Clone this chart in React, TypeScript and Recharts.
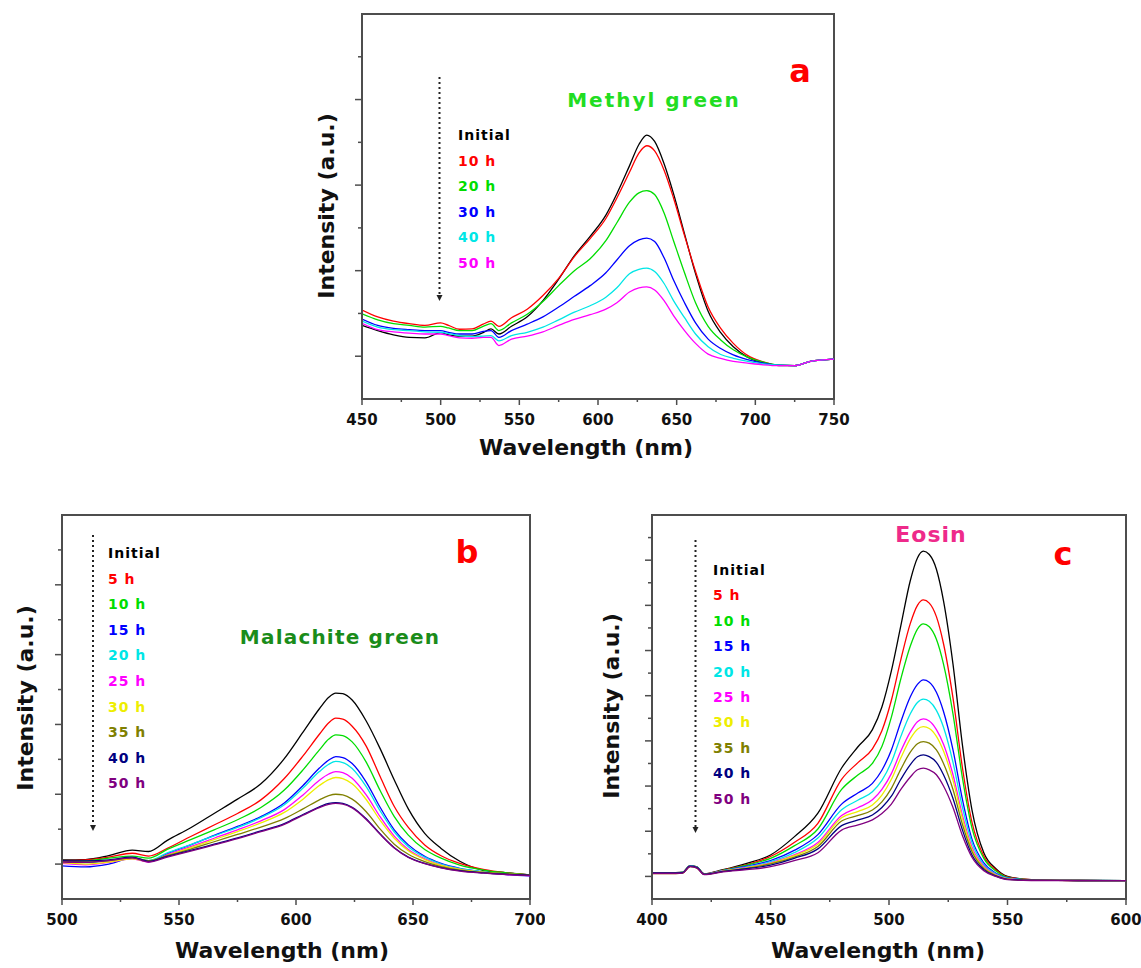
import { LineChart, Line, XAxis, YAxis, ReferenceArea } from 'recharts'

const FONT = '"DejaVu Sans", Verdana, sans-serif'
const FRAME = { stroke: '#4d4d4d', strokeWidth: 2 }

// series colours, shared by curves and legend text
const BLACK = '#000000'
const RED = '#ff0000'
const GREEN = '#00dd00'
const BLUE = '#0000ff'
const CYAN = '#00e6e6'
const MAGENTA = '#ff00ff'
const YELLOW = '#eeee00'
const OLIVE = '#808000'
const NAVY = '#000080'
const PURPLE = '#800080'

// ---------- (a) Methyl green ----------
const mgWave = [450, 460, 470, 480, 490, 500, 505, 512, 520, 527, 532, 537, 545, 555, 565, 575, 585, 595, 605, 612, 620, 626, 631, 636, 642, 648, 655, 662, 670, 678, 686, 695, 705, 715, 725, 735, 750]
const mgLabels = ['Initial', '10 h', '20 h', '30 h', '40 h', '50 h']
const mgInitial = [1.72, 1.60, 1.50, 1.44, 1.43, 1.55, 1.50, 1.47, 1.47, 1.55, 1.64, 1.52, 1.70, 1.92, 2.30, 2.80, 3.35, 3.80, 4.30, 4.80, 5.45, 5.95, 6.17, 6.02, 5.50, 4.80, 3.86, 2.93, 2.05, 1.55, 1.22, 0.98, 0.85, 0.78, 0.78, 0.88, 0.93]
const mg10h = [2.08, 1.92, 1.82, 1.76, 1.72, 1.78, 1.72, 1.63, 1.64, 1.75, 1.82, 1.70, 1.90, 2.10, 2.42, 2.82, 3.33, 3.75, 4.22, 4.70, 5.30, 5.75, 5.92, 5.80, 5.35, 4.70, 3.82, 2.98, 2.15, 1.65, 1.30, 1.02, 0.87, 0.79, 0.78, 0.88, 0.93]
const mg20h = [1.99, 1.85, 1.76, 1.72, 1.68, 1.70, 1.66, 1.60, 1.60, 1.70, 1.76, 1.60, 1.78, 1.98, 2.28, 2.65, 3.00, 3.28, 3.70, 4.12, 4.60, 4.82, 4.87, 4.78, 4.35, 3.70, 2.95, 2.25, 1.70, 1.38, 1.15, 0.98, 0.86, 0.79, 0.78, 0.88, 0.93]
const mg30h = [1.87, 1.72, 1.65, 1.62, 1.60, 1.60, 1.56, 1.52, 1.52, 1.58, 1.60, 1.44, 1.60, 1.75, 1.92, 2.15, 2.40, 2.65, 2.95, 3.25, 3.58, 3.72, 3.76, 3.68, 3.30, 2.78, 2.25, 1.78, 1.40, 1.18, 1.03, 0.92, 0.84, 0.79, 0.78, 0.88, 0.93]
const mg40h = [1.82, 1.68, 1.62, 1.60, 1.57, 1.56, 1.53, 1.48, 1.46, 1.47, 1.48, 1.36, 1.48, 1.56, 1.68, 1.85, 2.03, 2.18, 2.38, 2.60, 2.93, 3.03, 3.06, 2.98, 2.70, 2.30, 1.90, 1.52, 1.22, 1.04, 0.95, 0.88, 0.82, 0.79, 0.78, 0.88, 0.93]
const mg50h = [1.77, 1.62, 1.57, 1.54, 1.52, 1.52, 1.48, 1.43, 1.42, 1.44, 1.44, 1.25, 1.40, 1.47, 1.57, 1.72, 1.86, 1.97, 2.10, 2.25, 2.50, 2.60, 2.62, 2.55, 2.30, 1.95, 1.60, 1.30, 1.05, 0.95, 0.88, 0.84, 0.80, 0.78, 0.78, 0.88, 0.93]

// ---------- (b) Malachite green ----------
const mlWave = [500, 510, 520, 530, 537, 545, 555, 565, 575, 585, 595, 603, 610, 614, 617, 620, 624, 630, 636, 642, 648, 655, 662, 670, 680, 690, 700]
const mlLabels = ['Initial', '5 h', '10 h', '15 h', '20 h', '25 h', '30 h', '35 h', '40 h', '50 h']
const mlInitial = [1.12, 1.13, 1.24, 1.40, 1.36, 1.68, 2.04, 2.45, 2.86, 3.30, 4.02, 4.78, 5.45, 5.78, 5.90, 5.88, 5.70, 5.10, 4.30, 3.41, 2.58, 1.88, 1.45, 1.08, 0.82, 0.75, 0.69]
const ml5h = [1.10, 1.12, 1.20, 1.31, 1.23, 1.45, 1.79, 2.12, 2.45, 2.84, 3.45, 4.10, 4.72, 5.05, 5.18, 5.15, 4.95, 4.38, 3.50, 2.65, 2.05, 1.55, 1.24, 1.02, 0.85, 0.75, 0.69]
const ml10h = [1.07, 1.09, 1.17, 1.23, 1.17, 1.42, 1.70, 1.98, 2.27, 2.62, 3.12, 3.70, 4.27, 4.58, 4.70, 4.68, 4.50, 3.92, 3.10, 2.36, 1.83, 1.42, 1.17, 0.97, 0.83, 0.75, 0.69]
const ml15h = [0.95, 0.92, 1.00, 1.17, 1.07, 1.30, 1.55, 1.82, 2.08, 2.36, 2.75, 3.25, 3.75, 3.98, 4.08, 4.05, 3.88, 3.35, 2.62, 1.98, 1.55, 1.22, 1.02, 0.88, 0.78, 0.70, 0.66]
const ml20h = [1.05, 1.04, 1.10, 1.18, 1.10, 1.32, 1.56, 1.81, 2.05, 2.33, 2.70, 3.18, 3.65, 3.86, 3.94, 3.91, 3.74, 3.22, 2.52, 1.92, 1.50, 1.20, 1.00, 0.87, 0.78, 0.72, 0.68]
const ml25h = [1.02, 0.98, 1.05, 1.15, 1.06, 1.27, 1.50, 1.74, 1.98, 2.24, 2.56, 2.98, 3.40, 3.58, 3.65, 3.62, 3.46, 2.98, 2.35, 1.80, 1.42, 1.15, 0.97, 0.85, 0.76, 0.70, 0.67]
const ml30h = [1.04, 1.00, 1.06, 1.15, 1.08, 1.25, 1.47, 1.70, 1.93, 2.18, 2.48, 2.86, 3.25, 3.42, 3.48, 3.45, 3.30, 2.85, 2.25, 1.74, 1.38, 1.13, 0.96, 0.85, 0.77, 0.72, 0.69]
const ml35h = [1.08, 1.06, 1.10, 1.18, 1.10, 1.24, 1.43, 1.64, 1.85, 2.06, 2.30, 2.58, 2.84, 2.96, 3.00, 2.98, 2.86, 2.50, 2.00, 1.57, 1.28, 1.07, 0.93, 0.83, 0.76, 0.72, 0.69]
const ml40h = [1.10, 1.09, 1.12, 1.20, 1.08, 1.22, 1.39, 1.57, 1.75, 1.95, 2.16, 2.42, 2.64, 2.74, 2.76, 2.74, 2.63, 2.30, 1.86, 1.47, 1.20, 1.02, 0.90, 0.81, 0.75, 0.71, 0.68]
const ml50h = [1.06, 1.05, 1.10, 1.18, 1.06, 1.20, 1.37, 1.55, 1.73, 1.93, 2.14, 2.40, 2.62, 2.71, 2.74, 2.72, 2.61, 2.28, 1.85, 1.46, 1.19, 1.01, 0.89, 0.80, 0.74, 0.70, 0.67]

// ---------- (c) Eosin ----------
const eoWave = [400, 410, 413, 416, 419, 422, 430, 440, 450, 460, 470, 480, 487, 493, 497, 501, 505, 509, 512, 514.5, 517, 520, 523, 527, 531, 535, 540, 545, 550, 560, 580, 600]
const eoLabels = ['Initial', '5 h', '10 h', '15 h', '20 h', '25 h', '30 h', '35 h', '40 h', '50 h']
const eoInitial = [1.17, 1.17, 1.19, 1.48, 1.42, 1.12, 1.30, 1.58, 1.95, 2.75, 3.80, 5.80, 6.75, 7.50, 8.50, 10.10, 12.10, 14.10, 15.10, 15.40, 15.25, 14.60, 13.20, 10.40, 6.80, 3.95, 2.05, 1.35, 1.00, 0.86, 0.82, 0.81]
const eo5h = [1.15, 1.15, 1.18, 1.46, 1.40, 1.10, 1.28, 1.52, 1.88, 2.50, 3.35, 5.30, 6.05, 6.65, 7.45, 8.80, 10.60, 12.20, 13.00, 13.24, 13.10, 12.50, 11.30, 8.90, 5.80, 3.40, 1.90, 1.30, 0.98, 0.86, 0.82, 0.81]
const eo10h = [1.16, 1.16, 1.18, 1.47, 1.40, 1.10, 1.27, 1.50, 1.80, 2.35, 3.10, 4.85, 5.50, 6.00, 6.75, 8.05, 9.75, 11.20, 11.95, 12.18, 12.05, 11.50, 10.40, 8.20, 5.35, 3.15, 1.80, 1.25, 0.96, 0.85, 0.82, 0.81]
const eo15h = [1.15, 1.15, 1.17, 1.45, 1.39, 1.10, 1.25, 1.45, 1.70, 2.15, 2.85, 4.20, 4.70, 5.12, 5.70, 6.60, 7.85, 8.95, 9.50, 9.70, 9.60, 9.15, 8.30, 6.60, 4.40, 2.65, 1.60, 1.15, 0.93, 0.84, 0.82, 0.81]
const eo20h = [1.16, 1.16, 1.18, 1.46, 1.40, 1.11, 1.25, 1.42, 1.65, 2.05, 2.70, 3.95, 4.38, 4.75, 5.25, 6.05, 7.20, 8.20, 8.70, 8.85, 8.75, 8.35, 7.60, 6.05, 4.05, 2.50, 1.52, 1.12, 0.92, 0.84, 0.82, 0.81]
const eo25h = [1.14, 1.14, 1.16, 1.44, 1.38, 1.09, 1.24, 1.40, 1.60, 1.95, 2.50, 3.70, 4.05, 4.39, 4.85, 5.55, 6.55, 7.40, 7.85, 7.97, 7.88, 7.50, 6.85, 5.50, 3.70, 2.30, 1.45, 1.08, 0.90, 0.83, 0.82, 0.81]
const eo30h = [1.13, 1.13, 1.15, 1.43, 1.37, 1.09, 1.23, 1.38, 1.58, 1.92, 2.42, 3.60, 3.88, 4.16, 4.60, 5.30, 6.25, 7.10, 7.52, 7.63, 7.55, 7.20, 6.55, 5.25, 3.55, 2.20, 1.40, 1.06, 0.89, 0.83, 0.82, 0.81]
const eo35h = [1.14, 1.14, 1.16, 1.44, 1.38, 1.10, 1.22, 1.36, 1.55, 1.85, 2.32, 3.45, 3.70, 3.94, 4.30, 4.90, 5.75, 6.50, 6.87, 6.97, 6.90, 6.60, 6.00, 4.85, 3.30, 2.10, 1.35, 1.04, 0.88, 0.83, 0.82, 0.81]
const eo40h = [1.15, 1.15, 1.17, 1.45, 1.39, 1.10, 1.22, 1.34, 1.50, 1.80, 2.22, 3.25, 3.50, 3.72, 4.05, 4.55, 5.30, 5.95, 6.30, 6.38, 6.30, 6.05, 5.50, 4.45, 3.05, 1.95, 1.30, 1.02, 0.87, 0.83, 0.82, 0.81]
const eo50h = [1.13, 1.13, 1.15, 1.43, 1.37, 1.08, 1.20, 1.30, 1.43, 1.70, 2.05, 3.05, 3.28, 3.50, 3.78, 4.20, 4.85, 5.40, 5.72, 5.79, 5.72, 5.50, 5.00, 4.05, 2.80, 1.85, 1.25, 1.00, 0.86, 0.82, 0.81, 0.81]

type Series = { label: string; color: string; values: number[] }

const mgSeries: Series[] = [mgInitial, mg10h, mg20h, mg30h, mg40h, mg50h].map((values, i) => ({
  label: mgLabels[i], color: [BLACK, RED, GREEN, BLUE, CYAN, MAGENTA][i], values,
}))
const tenColours = [BLACK, RED, GREEN, BLUE, CYAN, MAGENTA, YELLOW, OLIVE, NAVY, PURPLE]
const mlSeries: Series[] = [mlInitial, ml5h, ml10h, ml15h, ml20h, ml25h, ml30h, ml35h, ml40h, ml50h].map((values, i) => ({
  label: mlLabels[i], color: tenColours[i], values,
}))
const eoSeries: Series[] = [eoInitial, eo5h, eo10h, eo15h, eo20h, eo25h, eo30h, eo35h, eo40h, eo50h].map((values, i) => ({
  label: eoLabels[i], color: tenColours[i], values,
}))

function buildRows(wave: number[], series: Series[]) {
  return wave.map((w, i) => {
    const row: Record<string, number> = { w }
    series.forEach((s, k) => { row['s' + k] = s.values[i] })
    return row
  })
}

function range(from: number, to: number, step: number) {
  const out: number[] = []
  for (let v = from; v <= to; v += step) out.push(v)
  return out
}

// bottom tick: long mark + label on the 50 nm steps, short mark in between
function renderXTick(props: any, majorStep: number, start: number) {
  const { x, y, payload } = props
  const major = (payload.value - start) % majorStep === 0
  return (
    <g>
      <line x1={x} x2={x} y1={y} y2={y + (major ? 6 : 3)} stroke="#4d4d4d" strokeWidth={1.5} />
      {major && (
        <text x={x} y={y + 26} textAnchor="middle" fontFamily={FONT} fontWeight="bold" fontSize={15} fill="#111">
          {payload.value}
        </text>
      )}
    </g>
  )
}

// left tick: unlabelled, odd values are the long ones
function renderYTick(props: any) {
  const { x, y, payload } = props
  const len = payload.value % 2 === 1 ? 7 : 4
  return <line x1={x - len} x2={x} y1={y} y2={y} stroke="#4d4d4d" strokeWidth={1.5} />
}

type PanelProps = {
  left: number; top: number; width: number; height: number
  marginTop: number; marginRight: number; xAxisHeight: number
  wave: number[]; series: Series[]; xMin: number; xMax: number; yMax: number
}

function Panel(p: PanelProps) {
  const rows = buildRows(p.wave, p.series)
  return (
    <div style={{ position: 'absolute', left: p.left, top: p.top }}>
      <LineChart width={p.width} height={p.height} data={rows}
        margin={{ top: p.marginTop, right: p.marginRight, bottom: 0, left: 0 }}>
        <XAxis dataKey="w" type="number" domain={[p.xMin, p.xMax]} ticks={range(p.xMin, p.xMax, 25)}
          interval={0} allowDataOverflow height={p.xAxisHeight} tickSize={0} tickMargin={0}
          tickLine={false} axisLine={FRAME} tick={(t: any) => renderXTick(t, 50, p.xMin)} />
        <YAxis type="number" domain={[0, p.yMax]} ticks={range(1, p.yMax - 1, 1)} interval={0}
          allowDataOverflow width={62} tickSize={0} tickMargin={0} tickLine={false}
          axisLine={FRAME} tick={renderYTick} />
        {/* closed box round the plot */}
        <ReferenceArea x1={p.xMin} x2={p.xMax} y1={0} y2={p.yMax} fill="none" fillOpacity={0}
          stroke="#4d4d4d" strokeWidth={2} ifOverflow="visible" />
        {p.series.map((s, k) => (
          <Line key={s.label} dataKey={'s' + k} type="monotone" stroke={s.color} strokeWidth={1.3}
            dot={false} isAnimationActive={false} />
        ))}
      </LineChart>
    </div>
  )
}

function Text({ x, y, size, color = '#111', spacing = 0, rotate = false, align = 'center', children }: any) {
  const shift = align === 'center' ? 'translate(-50%, -50%)' : 'translate(0, -50%)'
  return (
    <div style={{
      position: 'absolute', left: x, top: y, transform: shift + (rotate ? ' rotate(-90deg)' : ''),
      fontFamily: FONT, fontWeight: 'bold', fontSize: size, color, letterSpacing: spacing,
      whiteSpace: 'nowrap', lineHeight: 1,
    }}>
      {children}
    </div>
  )
}

function Legend({ x, y, step, series }: { x: number; y: number; step: number; series: Series[] }) {
  return (
    <>
      {series.map((s, i) => (
        <Text key={s.label} x={x} y={y + i * step} size={14} spacing={1} color={s.color} align="left">
          {s.label}
        </Text>
      ))}
    </>
  )
}

// dotted "decreasing with time" arrow
function Arrow({ x, y1, y2 }: { x: number; y1: number; y2: number }) {
  return (
    <g>
      <line x1={x} x2={x} y1={y1} y2={y2 - 4} stroke="#222" strokeWidth={2} strokeDasharray="2 3" />
      <polygon points={`${x - 3},${y2 - 5} ${x + 3},${y2 - 5} ${x},${y2 + 1}`} fill="#222" />
    </g>
  )
}

export default function App() {
  return (
    <div style={{ position: 'absolute', left: 0, top: 0, width: 1141, height: 968, background: '#fff', fontFamily: FONT }}>
      <Panel left={300} top={0} width={560} height={470} marginTop={14} marginRight={26} xAxisHeight={71}
        wave={mgWave} series={mgSeries} xMin={450} xMax={750} yMax={9} />
      <Panel left={0} top={500} width={545} height={468} marginTop={15} marginRight={15} xAxisHeight={69}
        wave={mlWave} series={mlSeries} xMin={500} xMax={700} yMax={11} />
      <Panel left={590} top={500} width={551} height={468} marginTop={15} marginRight={15} xAxisHeight={69}
        wave={eoWave} series={eoSeries} xMin={400} xMax={600} yMax={17} />

      <svg width={1141} height={968} style={{ position: 'absolute', left: 0, top: 0, pointerEvents: 'none' }}>
        <Arrow x={439.5} y1={77} y2={300} />
        <Arrow x={93} y1={535} y2={830} />
        <Arrow x={695.5} y1={540} y2={832} />
      </svg>

      {/* (a) */}
      <Text x={586} y={448} size={22}>Wavelength (nm)</Text>
      <Text x={327} y={206} size={22} rotate>Intensity (a.u.)</Text>
      <Text x={654} y={100} size={20} spacing={2} color="#22dd22">Methyl green</Text>
      <Text x={800} y={71} size={32} color={RED}>a</Text>
      <Legend x={458} y={135} step={25.6} series={mgSeries} />

      {/* (b) */}
      <Text x={282} y={951} size={22}>Wavelength (nm)</Text>
      <Text x={26} y={698} size={22} rotate>Intensity (a.u.)</Text>
      <Text x={340} y={637} size={20} spacing={1.2} color="#1a8c1a">Malachite green</Text>
      <Text x={467} y={552} size={32} color={RED}>b</Text>
      <Legend x={108} y={553} step={25.6} series={mlSeries} />

      {/* (c) */}
      <Text x={878} y={951} size={22}>Wavelength (nm)</Text>
      <Text x={612} y={706} size={22} rotate>Intensity (a.u.)</Text>
      <Text x={931} y={535} size={22} spacing={1} color="#ee2a8a">Eosin</Text>
      <Text x={1063} y={554} size={32} color={RED}>c</Text>
      <Legend x={713} y={570} step={25.4} series={eoSeries} />
    </div>
  )
}
